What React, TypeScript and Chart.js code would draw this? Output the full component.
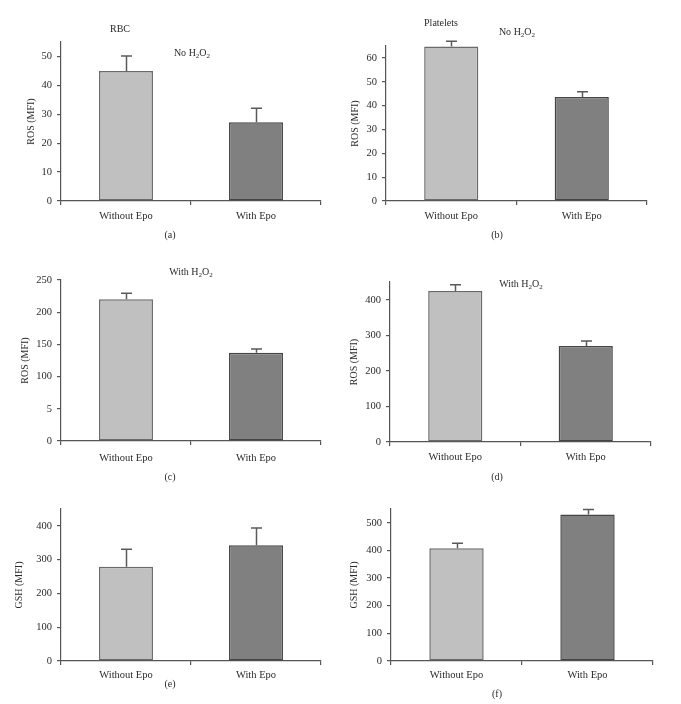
import React, { useEffect, useRef } from "react";
import { Chart, registerables } from "chart.js";

Chart.register(...registerables);

// ---------- data ----------
const categories = ["Without Epo", "With Epo"];

const rbcNoH2O2Values = [45, 27.2];
const rbcNoH2O2Errors = [5.2, 4.9];
const rbcNoH2O2Ticks = [0, 10, 20, 30, 40, 50];
const rbcNoH2O2TickLabels = ["0", "10", "20", "30", "40", "50"];

const pltNoH2O2Values = [64.8, 43.6];
const pltNoH2O2Errors = [2.2, 2.2];
const pltNoH2O2Ticks = [0, 10, 20, 30, 40, 50, 60];
const pltNoH2O2TickLabels = ["0", "10", "20", "30", "40", "50", "60"];

const rbcWithH2O2Values = [220, 137];
const rbcWithH2O2Errors = [9.5, 6];
const rbcWithH2O2Ticks = [0, 50, 100, 150, 200, 250];
const rbcWithH2O2TickLabels = ["0", "5", "100", "150", "200", "250"];

const pltWithH2O2Values = [425, 270];
const pltWithH2O2Errors = [17, 14];
const pltWithH2O2Ticks = [0, 100, 200, 300, 400];
const pltWithH2O2TickLabels = ["0", "100", "200", "300", "400"];

const rbcGshValues = [279, 343];
const rbcGshErrors = [52, 51];
const rbcGshTicks = [0, 100, 200, 300, 400];
const rbcGshTickLabels = ["0", "100", "200", "300", "400"];

const pltGshValues = [408, 530];
const pltGshErrors = [18, 18];
const pltGshTicks = [0, 100, 200, 300, 400, 500];
const pltGshTickLabels = ["0", "100", "200", "300", "400", "500"];

const barFills = ["#c0c0c0", "#7f807f"];
const barBorders = ["#6a6a6a", "#454545"];

// ---------- panels (data refs + layout) ----------
type Panel = {
  values: number[];
  errors: number[];
  ticks: number[];
  tickLabels: string[];
  yMax: number;
  yTitle: string;
  // layout: chart area in page coordinates
  L: number; T: number; R: number; B: number;
  titleGap: number;
  xLabelGap: number;
};

const panels: Panel[] = [
  { values: rbcNoH2O2Values, errors: rbcNoH2O2Errors, ticks: rbcNoH2O2Ticks, tickLabels: rbcNoH2O2TickLabels, yMax: 55, yTitle: "ROS (MFI)", L: 61, T: 42, R: 321, B: 201, titleGap: 25, xLabelGap: 5 },
  { values: pltNoH2O2Values, errors: pltNoH2O2Errors, ticks: pltNoH2O2Ticks, tickLabels: pltNoH2O2TickLabels, yMax: 65, yTitle: "ROS (MFI)", L: 386, T: 46, R: 647, B: 201, titleGap: 24, xLabelGap: 5 },
  { values: rbcWithH2O2Values, errors: rbcWithH2O2Errors, ticks: rbcWithH2O2Ticks, tickLabels: rbcWithH2O2TickLabels, yMax: 250, yTitle: "ROS (MFI)", L: 61, T: 280, R: 321, B: 441, titleGap: 19, xLabelGap: 7 },
  { values: pltWithH2O2Values, errors: pltWithH2O2Errors, ticks: pltWithH2O2Ticks, tickLabels: pltWithH2O2TickLabels, yMax: 450, yTitle: "ROS (MFI)", L: 390, T: 282, R: 651, B: 442, titleGap: 19, xLabelGap: 5 },
  { values: rbcGshValues, errors: rbcGshErrors, ticks: rbcGshTicks, tickLabels: rbcGshTickLabels, yMax: 450, yTitle: "GSH (MFI)", L: 61, T: 509, R: 321, B: 661, titleGap: 13, xLabelGap: 4 },
  { values: pltGshValues, errors: pltGshErrors, ticks: pltGshTicks, tickLabels: pltGshTickLabels, yMax: 550, yTitle: "GSH (MFI)", L: 391, T: 509, R: 653, B: 661, titleGap: 18, xLabelGap: 4 },
];

const FONT = "'Liberation Serif', 'Times New Roman', serif";
const TEXT = "#2a2a2a";
const AXIS = "#555555";
const Y_BOX = 61;
const PAD_TOP = 14;
const X_BOX = 34;
const PAD_RIGHT = 12;

const errorBarPlugin = {
  id: "errorBars",
  afterDatasetsDraw(chart: any, _args: any, opts: any) {
    const errs: number[] = opts.errors || [];
    const ctx = chart.ctx;
    const meta = chart.getDatasetMeta(0);
    const yScale = chart.scales.y;
    const data = chart.data.datasets[0].data as number[];
    ctx.save();
    ctx.strokeStyle = "#5a5a5a";
    ctx.lineWidth = 1.5;
    meta.data.forEach((bar: any, i: number) => {
      const top = yScale.getPixelForValue(data[i] + errs[i]);
      const x = Math.round(bar.x) + 0.5;
      ctx.beginPath();
      ctx.moveTo(x, bar.y);
      ctx.lineTo(x, top);
      ctx.moveTo(x - 5.5, top);
      ctx.lineTo(x + 5.5, top);
      ctx.stroke();
    });
    ctx.restore();
  },
};

function BarPanel({ p }: { p: Panel }) {
  const ref = useRef<HTMLCanvasElement>(null);
  const left = p.L - Y_BOX;
  const top = p.T - PAD_TOP;
  const width = p.R - left + PAD_RIGHT;
  const height = p.B - top + X_BOX;

  useEffect(() => {
    if (!ref.current) return;
    const chart = new Chart(ref.current, {
      type: "bar",
      data: {
        labels: categories,
        datasets: [
          {
            data: p.values,
            backgroundColor: barFills,
            borderColor: barBorders,
            borderWidth: 1.5,
            borderSkipped: false,
            barPercentage: 0.415,
            categoryPercentage: 1,
          },
        ],
      },
      options: {
        responsive: false,
        animation: false,
        devicePixelRatio: 1,
        layout: { padding: { left: 0, top: PAD_TOP, right: PAD_RIGHT, bottom: 0 } },
        plugins: {
          legend: { display: false },
          tooltip: { enabled: false },
          errorBars: { errors: p.errors },
        } as any,
        scales: {
          x: {
            type: "category",
            grid: { display: true, drawOnChartArea: false, drawTicks: true, tickLength: 4, color: AXIS, lineWidth: 1.2, offset: true },
            border: { display: true, color: AXIS, width: 1.2 },
            ticks: { color: TEXT, font: { family: FONT, size: 10.5 }, padding: p.xLabelGap, maxRotation: 0, autoSkip: false },
            afterFit: (s: any) => { s.height = X_BOX; },
          },
          y: {
            type: "linear",
            min: 0,
            max: p.yMax,
            grid: { display: true, drawOnChartArea: false, drawTicks: true, tickLength: 4, color: AXIS, lineWidth: 1.2 },
            border: { display: true, color: AXIS, width: 1.2 },
            ticks: {
              color: TEXT,
              font: { family: FONT, size: 10.5 },
              padding: 5,
              callback: (_v: any, i: number) => p.tickLabels[i],
            },
            afterBuildTicks: (s: any) => { s.ticks = p.ticks.map((v) => ({ value: v })); },
            afterFit: (s: any) => { s.width = Y_BOX; },
            title: {
              display: true,
              text: p.yTitle,
              color: TEXT,
              font: { family: FONT, size: 10 },
              padding: { top: p.titleGap, bottom: 0 },
            },
          },
        },
      },
      plugins: [errorBarPlugin],
    });
    return () => chart.destroy();
  }, []);

  return (
    <canvas
      ref={ref}
      width={width}
      height={height}
      style={{ position: "absolute", left, top, width, height }}
    />
  );
}

function Label({ x, y, children }: { x: number; y: number; children: React.ReactNode }) {
  return (
    <div
      style={{
        position: "absolute",
        left: x,
        top: y,
        transform: "translate(-50%, -50%)",
        fontFamily: FONT,
        fontSize: 10,
        color: TEXT,
        whiteSpace: "nowrap",
        lineHeight: "12px",
      }}
    >
      {children}
    </div>
  );
}

const Sub = ({ c }: { c: string }) => (
  <span style={{ fontSize: 7, position: "relative", top: 2 }}>{c}</span>
);

const H2O2 = () => (
  <>
    H<Sub c="2" />O<Sub c="2" />
  </>
);

export default function App() {
  return (
    <div
      style={{
        position: "absolute",
        left: 0,
        top: 0,
        width: 681,
        height: 704,
        background: "#ffffff",
        overflow: "hidden",
      }}
    >
      {panels.map((p, i) => (
        <BarPanel key={i} p={p} />
      ))}
      <Label x={120} y={29}>RBC</Label>
      <Label x={192} y={53}>No <H2O2 /></Label>
      <Label x={441} y={23}>Platelets</Label>
      <Label x={517} y={32}>No <H2O2 /></Label>
      <Label x={191} y={272}>With <H2O2 /></Label>
      <Label x={521} y={284}>With <H2O2 /></Label>
      <Label x={170} y={235}>(a)</Label>
      <Label x={497} y={235}>(b)</Label>
      <Label x={170} y={477}>(c)</Label>
      <Label x={497} y={477}>(d)</Label>
      <Label x={170} y={684}>(e)</Label>
      <Label x={497} y={694}>(f)</Label>
    </div>
  );
}
